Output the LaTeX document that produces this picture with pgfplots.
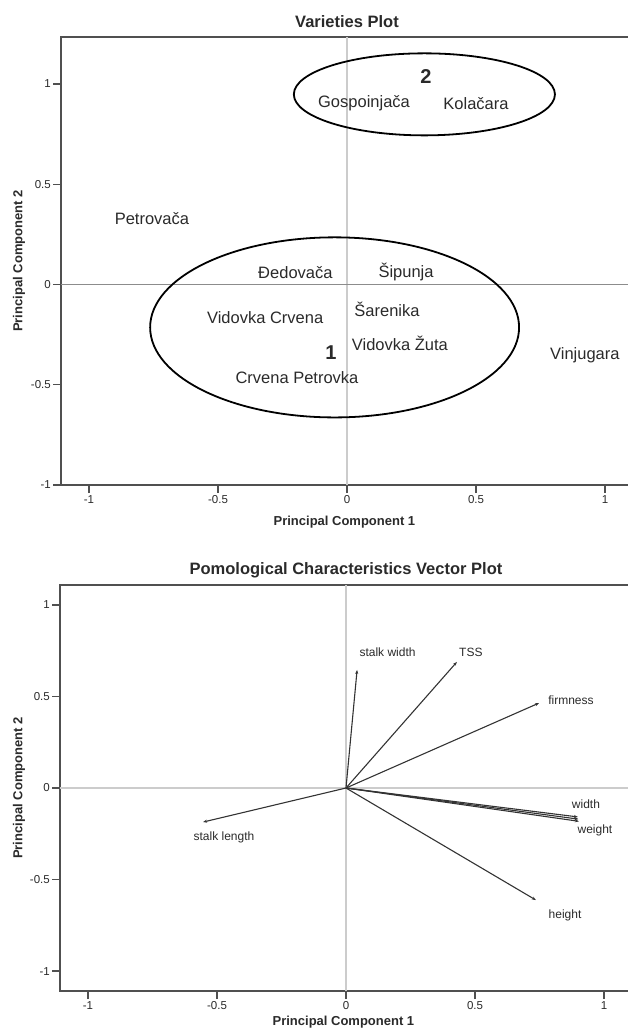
\documentclass[border=0pt]{standalone}
\usepackage{fontspec}
\setmainfont{Liberation Sans}
\usepackage{pgfplots}
\usepackage{pgfplotstable}
\pgfplotsset{compat=1.18}
\usetikzlibrary{arrows.meta}
\definecolor{axgray}{HTML}{505050}
\definecolor{txtgray}{HTML}{2A2A2A}

\pgfplotstableread[col sep=comma]{
x,y,label
-0.756,0.329,Petrovača
-0.200,0.060,Đedovača
0.229,0.060,Šipunja
0.155,-0.125,Šarenika
-0.317,-0.166,Vidovka Crvena
0.205,-0.294,Vidovka Žuta
-0.194,-0.463,Crvena Petrovka
0.922,-0.354,Vinjugara
0.066,0.903,Gospoinjača
0.500,0.903,Kolačara
}\varieties

\pgfplotstableread[col sep=comma]{
x,y,label
-0.062,-0.340,1
0.306,1.037,2
}\clusters

\pgfplotstableread[col sep=comma]{
x,y,label
0.161,0.743,stalk width
0.484,0.743,TSS
0.872,0.481,firmness
0.930,-0.087,width
0.965,-0.230,weight
-0.473,-0.268,stalk length
0.849,-0.694,height
}\veclabels

\pgfplotsset{
  pcaax/.style={
    scale only axis, width=570pt,
    xmin=-1.1085, xmax=1.1008,
    clip=false,
    axis line style={color=axgray, line width=1.4pt},
    tick align=outside, xtick pos=bottom, ytick pos=left,
    major tick length=8pt,
    tick style={color=axgray, line width=1.2pt},
    xtick={-1,-0.5,0,0.5,1},
    ytick={-1,-0.5,0,0.5,1},
    /pgf/number format/assume math mode=true,
    ticklabel style={font=\fontsize{11.5}{13}\selectfont, color=txtgray},
    xticklabel style={inner sep=2pt},
    yticklabel style={inner sep=2pt},
  }
}

\begin{document}
\begin{tikzpicture}
% ---------- Varieties plot ----------
\begin{axis}[pcaax, height=448pt, ymin=-1, ymax=1.234,
  at={(61pt,-485pt)}, anchor=south west]
  \draw[color=black!20, line width=1.2pt] (axis cs:0,-1) -- (axis cs:0,1.234);
  \draw[color=black!45, line width=1.6pt] (axis cs:-1.1085,0) -- (axis cs:1.1008,0);
  \draw[black, line width=1.8pt] (axis cs:-0.048,-0.214) ellipse [x radius=0.715, y radius=0.449];
  \draw[black, line width=1.8pt] (axis cs:0.300,0.948) ellipse [x radius=0.506, y radius=0.2045];
  \addplot[only marks, mark=none, nodes near coords, point meta=explicit symbolic,
    nodes near coords style={anchor=center, inner sep=0pt, font=\fontsize{16.5}{19}\selectfont, text=txtgray}]
    table[x=x, y=y, meta=label] {\varieties};
  \addplot[only marks, mark=none, nodes near coords, point meta=explicit symbolic,
    nodes near coords style={anchor=center, inner sep=0pt, font=\bfseries\fontsize{20}{22}\selectfont, text=txtgray}]
    table[x=x, y=y, meta=label] {\clusters};
  \node[font=\bfseries\fontsize{16.5}{19}\selectfont, text=txtgray] at ([yshift=15pt]axis cs:0,1.234) {Varieties Plot};
  \node[font=\bfseries\fontsize{13}{15}\selectfont, text=txtgray] at ([yshift=-37pt]axis cs:-0.01,-1) {Principal Component 1};
  \node[rotate=90, font=\bfseries\fontsize{13}{15}\selectfont, text=txtgray] at ([xshift=-42pt]rel axis cs:0,0.5) {Principal Component 2};
\end{axis}
% ---------- Vector plot ----------
\begin{axis}[pcaax, height=406pt, ymin=-1.109, ymax=1.109,
  at={(60pt,-991pt)}, anchor=south west]
  \draw[color=black!20, line width=1.2pt] (axis cs:0,-1.109) -- (axis cs:0,1.109);
  \draw[color=black!20, line width=1.4pt] (axis cs:-1.1085,0) -- (axis cs:1.1008,0);
  \pgfplotsset{vec/.style={color=black!80, line width=1.1pt, -{Stealth[length=4pt, width=3pt]}}}
  \addplot[vec] coordinates {(0,0) (0.043,0.645)};
  \addplot[vec] coordinates {(0,0) (0.430,0.689)};
  \addplot[vec] coordinates {(0,0) (0.748,0.464)};
  \addplot[vec] coordinates {(0,0) (0.899,-0.158)};
  \addplot[vec] coordinates {(0,0) (0.901,-0.170)};
  \addplot[vec] coordinates {(0,0) (0.903,-0.182)};
  \addplot[vec] coordinates {(0,0) (-0.554,-0.186)};
  \addplot[vec] coordinates {(0,0) (0.736,-0.612)};
  \addplot[only marks, mark=none, nodes near coords, point meta=explicit symbolic,
    nodes near coords style={anchor=center, inner sep=0pt, font=\fontsize{12}{14}\selectfont, text=txtgray}]
    table[x=x, y=y, meta=label] {\veclabels};
  \node[font=\bfseries\fontsize{16.5}{19}\selectfont, text=txtgray] at ([yshift=15pt]axis cs:0,1.109) {Pomological Characteristics Vector Plot};
  \node[font=\bfseries\fontsize{13}{15}\selectfont, text=txtgray] at ([yshift=-31pt]axis cs:-0.01,-1.109) {Principal Component 1};
  \node[rotate=90, font=\bfseries\fontsize{13}{15}\selectfont, text=txtgray] at ([xshift=-41pt]rel axis cs:0,0.5) {Principal Component 2};
\end{axis}
\pgfresetboundingbox
\path[use as bounding box] (0,0) rectangle (627pt,-1030pt);
\end{tikzpicture}
\end{document}
